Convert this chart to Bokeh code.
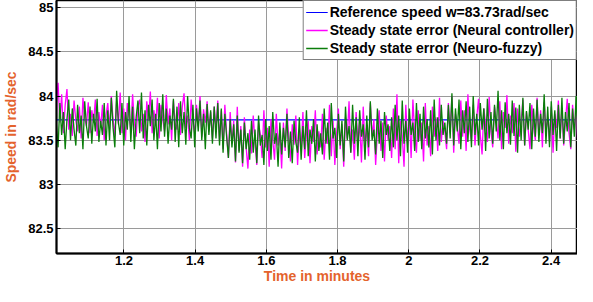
import numpy as np
from bokeh.plotting import figure
from bokeh.models import Range1d, FixedTicker, Legend, LegendItem
from bokeh.embed import file_html
from bokeh.resources import INLINE

# ---- data ----
t_start, t_end = 1.01, 2.5
reference_speed = 83.73

neural = [
    83.92, 84.15, 83.70, 84.02, 83.58, 83.90, 84.08, 83.62, 83.80, 83.55, 83.95, 83.72, 83.60, 83.88, 83.52, 83.98, 83.75, 83.66, 83.93, 83.58,
    83.84, 83.70, 83.96, 83.55, 83.82, 83.64, 83.90, 83.50, 83.78, 83.92,
    83.62, 84.00, 83.74, 83.55, 83.95, 83.68, 84.04, 83.58, 83.86, 83.50, 83.92, 83.76, 83.62, 84.02, 83.70, 83.54, 83.88, 83.96, 83.60, 83.80,
    83.48, 83.94, 83.72, 84.05, 83.58, 83.84, 83.66, 83.98, 83.52, 83.90, 83.74, 83.60, 84.01, 83.68, 83.86, 83.50, 83.95, 83.70, 83.62, 83.92,
    83.56, 83.88, 84.03, 83.64, 83.78, 83.50, 83.96, 83.72, 83.58, 83.90, 83.66, 84.00, 83.54, 83.85, 83.70, 83.94, 83.60, 83.82, 83.52, 83.88,
    83.62, 83.95, 83.50, 83.84, 83.40, 83.90, 83.58, 83.30, 83.82, 83.46, 83.72, 83.25, 83.88, 83.38, 83.66, 83.20, 83.76, 83.42, 83.18, 83.62,
    83.35, 83.78, 83.48, 83.22, 83.70, 83.56, 83.30, 83.84, 83.42, 83.64, 83.20, 83.74, 83.50, 83.28, 83.80, 83.44, 83.60, 83.18, 83.70, 83.38,
    83.86, 83.52, 83.26, 83.68, 83.45, 83.78, 83.22, 83.62, 83.40, 83.82, 83.30, 83.58, 83.72, 83.24, 83.66, 83.48, 83.84, 83.34, 83.60, 83.42,
    83.80, 83.28, 83.64, 83.46, 83.90, 83.32, 83.72, 83.22, 83.58, 83.86, 83.40, 83.68, 83.20, 83.76, 83.52, 83.94, 83.36, 83.62, 83.28, 83.82,
    83.48, 83.70, 83.25, 83.88, 83.44, 83.66, 83.32, 83.92, 83.54, 83.74, 83.22, 83.60, 83.84, 83.38, 83.70, 83.26, 83.78, 83.50, 83.66, 83.30,
    83.86, 83.40, 84.02, 83.24, 83.72, 83.55, 83.20, 83.90, 83.46, 83.78, 83.30, 83.96, 83.58, 83.36, 83.84, 83.50, 83.70, 83.26, 83.92, 83.44,
    83.66, 83.32, 83.88, 83.54, 83.76, 83.38, 83.98, 83.48, 83.72, 83.60,
    83.40, 83.92, 83.58, 84.00, 83.36, 83.80, 83.66, 83.46, 83.95, 83.54, 83.84, 83.38, 84.02, 83.62, 83.50, 83.90, 83.44, 83.76, 83.97, 83.56,
    83.34, 83.86, 83.68, 83.48, 83.99, 83.60, 83.42, 83.88, 83.72, 83.52, 83.94, 83.40, 83.82, 83.64, 84.01, 83.46, 83.78, 83.58, 83.92, 83.37,
    83.86, 83.54, 83.70, 83.96, 83.44, 83.82, 83.62, 83.40, 83.90, 83.66, 83.50, 83.98, 83.56, 83.84, 83.42, 83.93, 83.60, 83.76, 83.48, 83.88,
    83.36, 83.80, 83.64, 83.95, 83.52, 83.86, 83.44, 83.72, 83.97, 83.58, 83.40, 83.90, 83.62, 83.82, 83.46, 83.94, 83.55, 83.78, 83.42, 83.86,
]

neuro_fuzzy = [
    83.68, 83.42, 83.92, 83.56, 83.82, 83.40, 83.74, 83.96, 83.50, 83.86, 83.62, 83.44, 83.90, 83.58, 83.78, 83.40, 83.94, 83.66, 83.52, 83.88,
    83.46, 83.80, 83.60, 83.97, 83.48, 83.72, 83.56, 83.92, 83.44, 83.84,
    83.50, 83.98, 83.64, 83.42, 84.06, 83.70, 83.56, 83.92, 83.44, 83.82, 83.62, 84.00, 83.48, 83.88, 83.40, 83.76, 83.95, 83.58, 84.04, 83.52,
    83.84, 83.44, 83.90, 83.66, 83.96, 83.50, 83.80, 83.40, 83.92, 83.60, 84.02, 83.54, 83.86, 83.46, 83.78, 83.62, 83.97, 83.48, 83.88, 83.42,
    83.94, 83.58, 83.82, 83.45, 84.00, 83.64, 83.52, 83.90, 83.42, 83.86, 83.60, 83.95, 83.50, 83.80, 83.40, 83.91, 83.56, 83.84, 83.46, 83.88,
    83.52, 83.92, 83.44, 83.86, 83.36, 83.80, 83.54, 83.30, 83.74, 83.42, 83.68, 83.26, 83.78, 83.36, 83.62, 83.24, 83.70, 83.40, 83.58, 83.28,
    83.72, 83.36, 83.62, 83.24, 83.78, 83.44, 83.56, 83.22, 83.74, 83.38, 83.66, 83.28, 83.82, 83.46, 83.58, 83.20, 83.70, 83.34, 83.64, 83.42,
    83.80, 83.30, 83.60, 83.24, 83.72, 83.48, 83.36, 83.76, 83.28, 83.66, 83.40, 83.84, 83.32, 83.62, 83.46, 83.74, 83.26, 83.68, 83.38, 83.58,
    83.34, 83.86, 83.46, 83.70, 83.28, 83.92, 83.52, 83.64, 83.30, 83.80, 83.44, 83.72, 83.26, 83.88, 83.50, 83.66, 83.36, 83.90, 83.46, 83.76,
    83.32, 83.84, 83.54, 83.68, 83.28, 83.78, 83.42, 83.94, 83.50, 83.62, 83.34, 83.86, 83.46, 83.72, 83.30, 83.82, 83.56, 83.68, 83.38, 83.76,
    83.42, 83.90, 83.50, 83.78, 83.32, 83.95, 83.46, 83.72, 83.36, 83.86, 83.56, 83.70, 83.38, 83.92, 83.48, 83.80, 83.40, 83.88, 83.52, 83.74,
    83.42, 83.84, 83.34, 83.96, 83.50, 83.76, 83.44, 83.90, 83.56, 83.70,
    83.46, 83.90, 83.52, 84.03, 83.44, 83.86, 83.60, 83.96, 83.40, 83.84, 83.58, 83.94, 83.48, 83.88, 83.42, 84.00, 83.56, 83.80, 83.44, 83.92,
    83.62, 83.86, 83.38, 83.97, 83.52, 83.82, 83.46, 83.90, 83.60, 84.06, 83.50, 83.84, 83.40, 83.93, 83.58, 83.80, 83.45, 83.95, 83.55, 83.87,
    83.36, 83.90, 83.50, 83.98, 83.44, 83.83, 83.62, 83.92, 83.40, 83.86, 83.54, 83.96, 83.48, 83.80, 83.58, 84.02, 83.46, 83.88, 83.42, 83.94,
    83.56, 83.84, 83.38, 83.90, 83.52, 83.98, 83.46, 83.82, 83.60, 83.92, 83.42, 83.86, 83.54, 84.00, 83.48, 83.84, 83.40, 83.94, 83.58, 83.80,
]

x_ticks = [1.2, 1.4, 1.6, 1.8, 2.0, 2.2, 2.4]
x_tick_labels = ["1.2", "1.4", "1.6", "1.8", "2", "2.2", "2.4"]
y_ticks = [82.5, 83.0, 83.5, 84.0, 84.5, 85.0]
y_tick_labels = ["82.5", "83", "83.5", "84", "84.5", "85"]

series_names = [
    "Reference speed w=83.73rad/sec",
    "Steady state error (Neural controller)",
    "Steady state error (Neuro-fuzzy)",
]

t_neural = np.linspace(t_start, t_end, len(neural))
t_fuzzy = np.linspace(t_start, t_end, len(neuro_fuzzy))

FONT = "Liberation Sans"
ORANGE = "#e4632d"

p = figure(width=577, height=286, output_backend="svg", toolbar_location=None,
           x_range=Range1d(1.0105, 2.474), y_range=Range1d(82.22, 85.08),
           min_border_left=50, min_border_right=0, min_border_top=0,
           min_border_bottom=24)

r_ref = p.line([t_start, t_end], [reference_speed, reference_speed],
               line_color="#0000ff", line_width=1.2)
r_nn = p.line(t_neural, neural, line_color="#ff00ff", line_width=1.3)
r_nf = p.line(t_fuzzy, neuro_fuzzy, line_color="#0a7d0a", line_width=1.3)

# axes
for ax in (p.xaxis[0], p.yaxis[0]):
    ax.axis_line_width = 2
    ax.axis_line_color = "black"
    ax.major_tick_in = 4
    ax.major_tick_out = 0
    ax.minor_tick_line_color = None
    ax.major_tick_line_color = "black"
    ax.major_label_text_font = FONT
    ax.major_label_text_font_style = "bold"
    ax.major_label_text_font_size = "13px"
    ax.major_label_text_color = "black"
    ax.axis_label_text_font = FONT
    ax.axis_label_text_font_style = "bold"
    ax.axis_label_text_font_size = "14px"
    ax.axis_label_text_color = ORANGE

p.xaxis.ticker = FixedTicker(ticks=x_ticks)
p.yaxis.ticker = FixedTicker(ticks=y_ticks)
p.xaxis.major_label_overrides = dict(zip(x_ticks, x_tick_labels))
p.yaxis.major_label_overrides = dict(zip(y_ticks, y_tick_labels))
p.xaxis.axis_label = "Time in minutes"
p.yaxis.axis_label = "Speed in rad/sec"
p.xaxis.major_label_standoff = 2
p.xaxis.axis_label_standoff = 0
p.yaxis.major_label_standoff = 3
p.yaxis.axis_label_standoff = 6

p.grid.grid_line_color = "#9a9a9a"
p.grid.grid_line_width = 1
p.outline_line_color = "black"
p.outline_line_width = 1.5
p.background_fill_color = "white"
p.border_fill_color = "white"

legend = Legend(items=[
    LegendItem(label=series_names[0], renderers=[r_ref]),
    LegendItem(label=series_names[1], renderers=[r_nn]),
    LegendItem(label=series_names[2], renderers=[r_nf]),
], location="top_right")
legend.label_text_font = FONT
legend.label_text_font_style = "bold"
legend.label_text_font_size = "14px"
legend.label_text_color = "black"
legend.label_height = 18
legend.glyph_height = 18
legend.glyph_width = 22
legend.label_standoff = 2
legend.spacing = 0
legend.padding = 2
legend.margin = 0
legend.border_line_color = "black"
legend.border_line_width = 1.5
legend.background_fill_color = "white"
legend.background_fill_alpha = 1
p.add_layout(legend, "center")

open("out.html", "w").write(file_html(p, INLINE))
